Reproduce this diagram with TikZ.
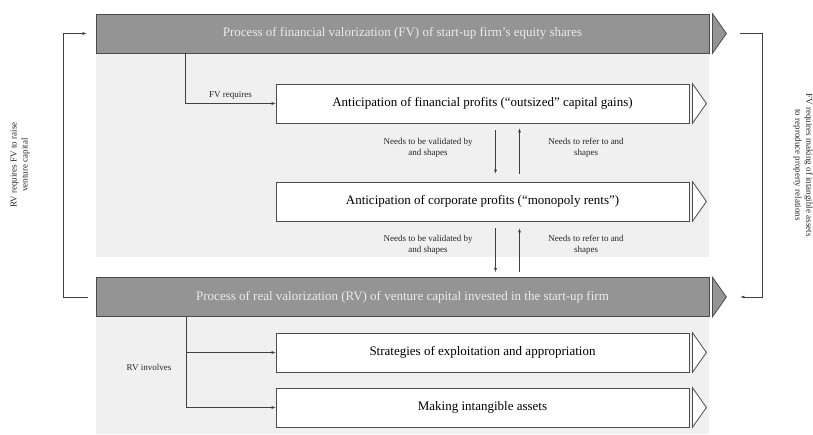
\documentclass[tikz,border=0pt]{standalone}
\usepackage{fontspec}
\setmainfont{Liberation Serif}
\usetikzlibrary{arrows.meta, calc}

\begin{document}
\begin{tikzpicture}[x=1pt, y=-1pt, >={Latex[length=4pt, width=3pt]},
    panel/.style={fill=black!6},
    bar/.style={draw=black!70, fill=black!42, line width=0.8pt, inner sep=0pt,
        minimum width=613pt, minimum height=39pt, text=white!92!black,
        font=\fontsize{13}{15}\selectfont},
    box/.style={draw=black!70, fill=white, line width=0.8pt, inner sep=0pt,
        minimum width=413pt, minimum height=39pt, font=\fontsize{13}{15}\selectfont},
    bartip/.style={draw=black!70, fill=black!42, line width=0.8pt},
    boxtip/.style={draw=black!70, fill=white, line width=0.8pt},
    lab/.style={font=\fontsize{9}{11}\selectfont, align=center, text=black!85},
    conn/.style={draw=black!75, line width=0.6pt}]

    \useasboundingbox (0,0) rectangle (813,434);

    % --- background panels ---
    \fill [panel] (96,14) rectangle (709,257);
    \fill [panel] (96,277) rectangle (709,434);

    % --- process bars ---
    \node [bar] (fv) at (402.5,33.5) {Process of financial valorization (FV) of start-up firm's equity shares};
    \node [bar] (rv) at (402.5,297) {Process of real valorization (RV) of venture capital invested in the start-up firm};

    % --- white boxes ---
    \node [box] (antfin) at (482.5,103.5) {Anticipation of financial profits (``outsized'' capital gains)};
    \node [box] (antcorp) at (482.5,201.5) {Anticipation of corporate profits (``monopoly rents'')};
    \node [box] (strat) at (482.5,352.5) {Strategies of exploitation and appropriation};
    \node [box] (intang) at (482.5,407.5) {Making intangible assets};

    % --- arrow heads beside bars and boxes ---
    \foreach \n in {fv, rv} {
        \draw [bartip] ([xshift=3pt]\n.north east) -- ([xshift=17pt]\n.east) -- ([xshift=3pt]\n.south east) -- cycle;
    }
    \foreach \n in {antfin, antcorp, strat, intang} {
        \draw [boxtip] ([xshift=3pt]\n.north east) -- ([xshift=17pt]\n.east) -- ([xshift=3pt]\n.south east) -- cycle;
    }

    % --- FV requires / RV involves ---
    \draw [conn, ->] ([xshift=90pt]fv.south west) |- (antfin.west) node [lab, pos=0.75, above] {FV requires};
    \draw [conn, ->] ([xshift=91pt]rv.south west) |- (strat.west);
    \draw [conn, ->] ([xshift=91pt]rv.south west) |- (intang.west);
    \node [lab] (rvinv) at (149,367) {RV involves};

    % --- validation arrows ---
    \draw [conn, ->] ($(antfin.south)+(13,7)$) -- ($(antcorp.north)+(13,-8)$);
    \draw [conn, ->] ($(antcorp.north)+(37,-8)$) -- ($(antfin.south)+(37,5)$);
    \draw [conn, ->] ($(antcorp.south)+(13,7)$) -- ($(antcorp.south |- rv.north)+(13,-5)$);
    \draw [conn, ->] ($(antcorp.south |- rv.north)+(37,-5)$) -- ($(antcorp.south)+(37,7)$);

    \node [lab] (val1) at (428,148) {Needs to be validated by\\and shapes};
    \node [lab] (ref1) at (586,148) {Needs to refer to and\\shapes};
    \node [lab] (val2) at (428,245) {Needs to be validated by\\and shapes};
    \node [lab] (ref2) at (586,245) {Needs to refer to and\\shapes};

    % --- outer loops ---
    \draw [conn, ->] ([xshift=-8pt]rv.west) -- ++(-24,0) |- ([xshift=-9pt]fv.west);
    \draw [conn, ->] ([xshift=31pt]fv.east) -| ([xshift=53pt]rv.east) -- ([xshift=31pt]rv.east);

    \node [lab, rotate=90] (rvfv) at (20,165) {RV requires FV to raise\\venture capital};
    \node [lab, rotate=-90] (fvmake) at (803,165) {FV requires making of intangible assets\\to reproduce property relations};

\end{tikzpicture}
\end{document}
